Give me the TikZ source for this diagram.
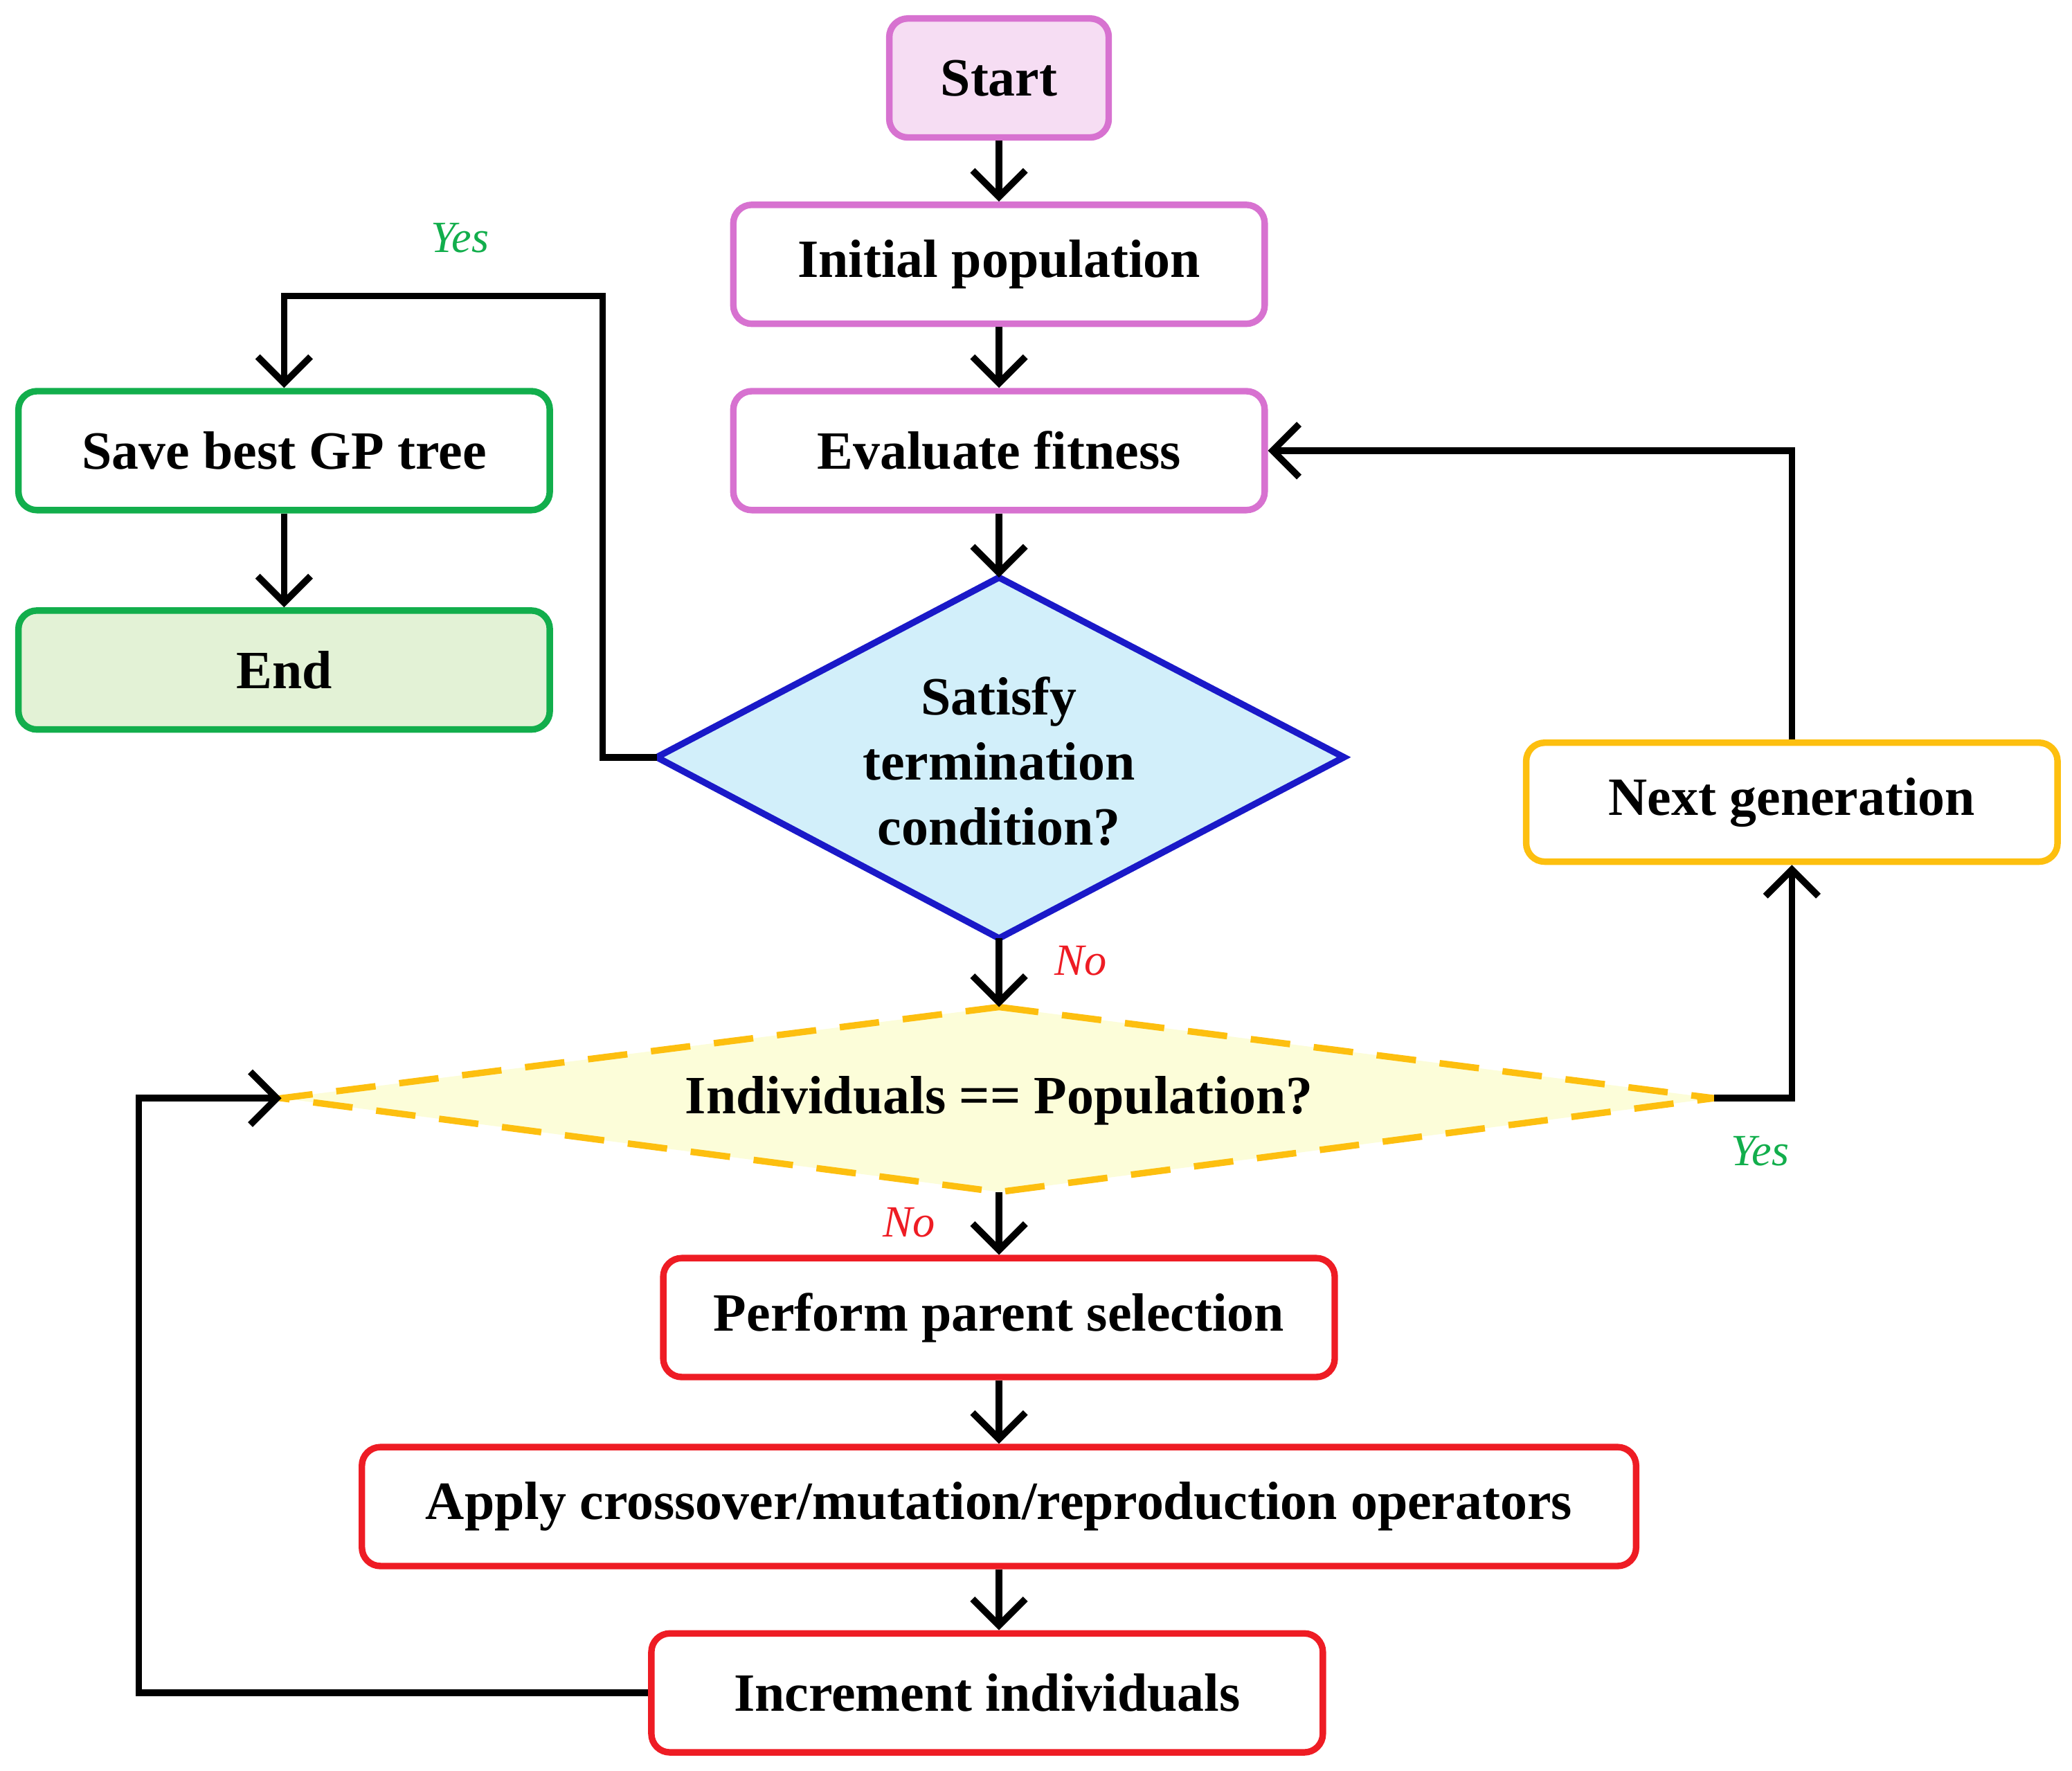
\documentclass[tikz,border=0pt]{standalone}
\usepackage{fontspec}
\setmainfont{Liberation Serif}
\usetikzlibrary{arrows.meta}
\definecolor{orch}{HTML}{D772D0}
\definecolor{pinkf}{HTML}{F6DDF3}
\definecolor{grn}{HTML}{12AE4C}
\definecolor{grnf}{HTML}{E3F2D6}
\definecolor{gold}{HTML}{FDBF0F}
\definecolor{yelf}{HTML}{FCFDD9}
\definecolor{cyanf}{HTML}{D2EFFA}
\definecolor{blu}{HTML}{1A19C8}
\definecolor{rd}{HTML}{EE1C24}
\begin{document}
\begin{tikzpicture}[x=0.025cm,y=-0.025cm,
  box/.style={draw,rounded corners=0.35cm,line width=3.5pt,minimum height=2.25cm,
    font=\fontsize{29}{33}\selectfont\bfseries,inner sep=0pt},
  arr/.style={line width=3.6pt,-{Straight Barb[length=0.5cm,width=1cm,line width=3.6pt]}},
  lab/.style={font=\fontsize{24}{28}\selectfont\itshape}]
\useasboundingbox (0,0) rectangle (1568,1340);
\node[box,draw=orch,fill=pinkf,minimum width=4.15cm] (start) at (756,59) {Start};
\node[box,draw=orch,minimum width=10.05cm] (init) at (756,200) {Initial population};
\node[box,draw=orch,minimum width=10.05cm] (eval) at (756,341) {Evaluate fitness};
\node[box,draw=grn,minimum width=10.05cm] (save) at (215,341) {Save best GP tree};
\node[box,draw=grn,fill=grnf,minimum width=10.05cm] (end) at (215,507) {End};
\node[box,draw=gold,minimum width=10.05cm] (next) at (1356,607) {Next generation};
\node[box,draw=rd,minimum width=12.7cm] (parent) at (756,997) {Perform parent selection};
\node[box,draw=rd,minimum width=24.1cm] (apply) at (756,1140) {Apply crossover/mutation/reproduction operators};
\node[box,draw=rd,minimum width=12.7cm] (inc) at (747,1281) {Increment individuals};
% diamond 1
\coordinate (dT) at (756,437); \coordinate (dB) at (756,710);
\coordinate (dL) at (497,573); \coordinate (dR) at (1017,573);
\draw[blu,fill=cyanf,line width=3.5pt,line join=miter] (dT)--(dR)--(dB)--(dL)--cycle;
\node[font=\fontsize{29}{35}\selectfont\bfseries,align=center] (cond) at (756,576) {Satisfy\\termination\\condition?};
% diamond 2
\coordinate (iT) at (756,762); \coordinate (iB) at (756,902);
\coordinate (iL) at (213,831); \coordinate (iR) at (1297,831);
\draw[gold,fill=yelf,line width=3.5pt,dash pattern=on 0.75cm off 0.45cm] (iT)--(iR)--(iB)--(iL)--cycle;
\node[font=\fontsize{29}{33}\selectfont\bfseries] (ind) at (756,833) {Individuals == Population?};
% arrows
\draw[arr] (start)--(init);
\draw[arr] (init)--(eval);
\draw[arr] (eval)--(dT);
\draw[arr] (save)--(end);
\draw[arr] (dB)--(iT);
\draw[arr] (iB)--(parent);
\draw[arr] (parent)--(apply);
\draw[arr] (apply)--(inc.north-|apply);
\draw[arr] (dL)--(456,573)--(456,224)--(215,224)--(save);
\draw[arr] (next.north)--(1356,341)--(eval.east);
\draw[arr] (iR)--(1356,831)--(next.south);
\draw[arr] (inc.west)--(105,1281)--(105,831)--(iL);
\node[lab,text=grn] (y1) at (348,180) {Yes};
\node[lab,text=rd] (n1) at (818,727) {No};
\node[lab,text=grn] (y2) at (1332,871) {Yes};
\node[lab,text=rd] (n2) at (688,925) {No};
\end{tikzpicture}
\end{document}
